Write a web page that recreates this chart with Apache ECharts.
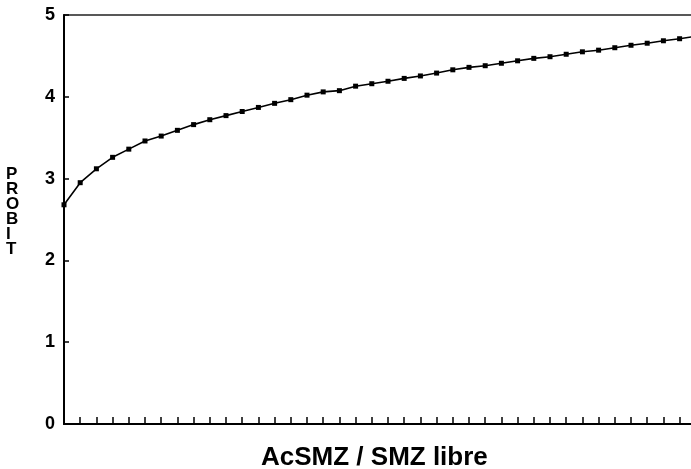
<!DOCTYPE html>
<html>
<head>
<meta charset="utf-8">
<script src="https://cdn.jsdelivr.net/npm/echarts@6/dist/echarts.min.js"></script>
<style>html,body{margin:0;padding:0;background:#fff;}#c{width:691px;height:469px;}</style>
</head>
<body>
<div id="c"></div>
<script>
// Ratio steps (x positions, unlabeled ticks)
const xSteps = [0,1,2,3,4,5,6,7,8,9,10,11,12,13,14,15,16,17,18,19,20,21,22,23,24,25,26,27,28,29,30,31,32,33,34,35,36,37,38,39];
// PROBIT values
const probit = [2.68,2.95,3.12,3.26,3.36,3.46,3.52,3.59,3.66,3.72,3.77,3.82,3.87,3.92,3.965,4.02,4.06,4.075,4.13,4.16,4.19,4.225,4.255,4.29,4.33,4.36,4.38,4.41,4.44,4.47,4.49,4.52,4.55,4.57,4.60,4.63,4.655,4.685,4.71,4.74];
const yTicks = [0,1,2,3,4,5];
const xTitle = 'AcSMZ / SMZ libre';
const yTitle = 'PROBIT';

const chart = echarts.init(document.getElementById('c'), null, {renderer:'canvas'});
const font = 'Liberation Sans, Arial, Helvetica, sans-serif';
chart.setOption({
  animation: false,
  backgroundColor: '#fff',
  grid: { left: 64, top: 15, height: 409, width: 648, outerBoundsMode: 'none', containLabel: false, show: true, borderColor: '#222', borderWidth: 1.5, backgroundColor: 'transparent' },
  xAxis: {
    type: 'value', min: 0, max: 40, interval: 1,
    axisLine: { show: true, lineStyle: { color: '#000', width: 2 } },
    axisTick: { show: true, inside: true, length: 7, lineStyle: { color: '#000', width: 1.5 } },
    axisLabel: { show: false },
    splitLine: { show: false }
  },
  yAxis: {
    type: 'value', min: yTicks[0], max: yTicks[yTicks.length-1], interval: 1,
    axisLine: { show: true, lineStyle: { color: '#000', width: 2 } },
    axisTick: { show: true, inside: true, length: 5, lineStyle: { color: '#000', width: 1.5 } },
    axisLabel: { show: true, color: '#000', fontSize: 18, fontWeight: 'bold', fontFamily: font, margin: 9 },
    splitLine: { show: false }
  },
  series: [{
    type: 'line',
    data: xSteps.map((x, i) => [x, probit[i]]),
    symbol: 'rect', symbolSize: 5,
    itemStyle: { color: '#000' },
    lineStyle: { color: '#000', width: 1.6 },
    smooth: false
  }],
  graphic: [
    { type: 'text', left: 261, top: 445, style: { text: xTitle, fill: '#000', font: 'bold 26px ' + font } },
    { type: 'text', left: 6, top: 166, style: { text: yTitle.split('').join('\n'), fill: '#000', font: 'bold 17px ' + font, lineHeight: 15, align: 'center' } }
  ]
});
</script>
</body>
</html>
